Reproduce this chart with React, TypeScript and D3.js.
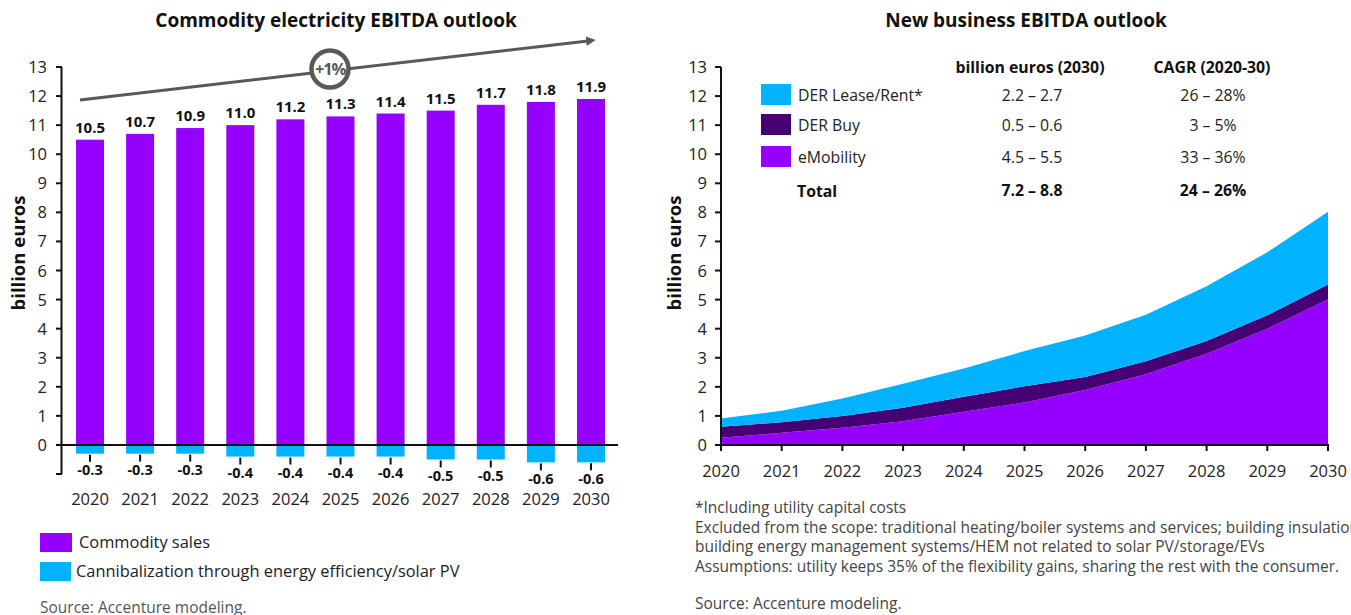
import React from "react";
import * as d3 from "d3";

const years = ["2020", "2021", "2022", "2023", "2024", "2025", "2026", "2027", "2028", "2029", "2030"];
const commoditySales = [10.5, 10.7, 10.9, 11.0, 11.2, 11.3, 11.4, 11.5, 11.7, 11.8, 11.9];
const cannibalization = [-0.3, -0.3, -0.3, -0.4, -0.4, -0.4, -0.4, -0.5, -0.5, -0.6, -0.6];
const yTicks = d3.range(0, 14);

const eMobility = [0.25, 0.42, 0.59, 0.82, 1.14, 1.46, 1.89, 2.43, 3.14, 4.0, 5.0];
const derBuy = [0.38, 0.36, 0.41, 0.46, 0.52, 0.56, 0.45, 0.45, 0.44, 0.46, 0.52];
const derLease = [0.28, 0.4, 0.6, 0.83, 0.97, 1.21, 1.43, 1.6, 1.88, 2.17, 2.5];

const tableRows = [
  { label: "DER Lease/Rent*", key: "derLease", value: "2.2 – 2.7", cagr: "26 – 28%" },
  { label: "DER Buy", key: "derBuy", value: "0.5 – 0.6", cagr: "3 – 5%" },
  { label: "eMobility", key: "eMobility", value: "4.5 – 5.5", cagr: "33 – 36%" },
];
const tableTotal = { label: "Total", value: "7.2 – 8.8", cagr: "24 – 26%" };

const footnotes = [
  "*Including utility capital costs",
  "Excluded from the scope: traditional heating/boiler systems and services; building insulation;",
  "building energy management systems/HEM not related to solar PV/storage/EVs",
  "Assumptions: utility keeps 35% of the flexibility gains, sharing the rest with the consumer.",
];

const PURPLE = "#9500FF";
const BLUE = "#00B2FF";
const DARK = "#460073";
const GREY = "#595959";
const FONT = "'Open Sans', Roboto, sans-serif";

const colors: Record<string, string> = { eMobility: PURPLE, derBuy: DARK, derLease: BLUE };

function LeftChart() {
  const x = d3.scalePoint<string>().domain(years).range([90, 591]);
  const y = d3.scaleLinear().domain([-1, 13]).range([474, 67]);
  const bw = 28;
  const trend = [
    [80, 100],
    [588, 41],
  ];
  return (
    <g>
      <text x={336} y={27} textAnchor="middle" fontWeight={700} fontSize={19} fill="#111">
        Commodity electricity EBITDA outlook
      </text>
      {/* bars */}
      {years.map((yr, i) => (
        <g key={yr}>
          <rect x={x(yr)! - bw / 2} y={y(commoditySales[i])} width={bw} height={y(0) - y(commoditySales[i])} fill={PURPLE} />
          <rect x={x(yr)! - bw / 2} y={y(0)} width={bw} height={y(cannibalization[i]) - y(0)} fill={BLUE} />
          <text x={x(yr)} y={y(commoditySales[i]) - 7} textAnchor="middle" fontWeight={700} fontSize={15} fill="#111">
            {commoditySales[i].toFixed(1)}
          </text>
          <line x1={x(yr)} x2={x(yr)} y1={y(cannibalization[i]) + 1} y2={y(cannibalization[i]) + 8} stroke="#111" strokeWidth={2} />
          <text x={x(yr)} y={y(cannibalization[i]) + 21.5} textAnchor="middle" fontWeight={700} fontSize={14.5} fill="#111">
            {cannibalization[i].toFixed(1)}
          </text>
          <text x={x(yr)} y={505} textAnchor="middle" fontSize={16.5} fill="#222">
            {yr}
          </text>
        </g>
      ))}
      {/* axes */}
      <line x1={61.5} x2={61.5} y1={y(13)} y2={y(-1)} stroke="#111" strokeWidth={2} />
      {[...yTicks, -1].map((t) => (
        <line key={t} x1={56} x2={62} y1={y(t)} y2={y(t)} stroke="#111" strokeWidth={2} />
      ))}
      {yTicks.map((t) => (
        <text key={t} x={47} y={y(t) + 6} textAnchor="end" fontSize={16.5} fill="#222">
          {t}
        </text>
      ))}
      <line x1={56} x2={618} y1={y(0)} y2={y(0)} stroke="#111" strokeWidth={2} />
      <text transform={`translate(25,253) rotate(-90)`} textAnchor="middle" fontWeight={700} fontSize={18.5} fill="#111">
        billion euros
      </text>
      {/* trend arrow */}
      <defs>
        <marker id="arrowHead" viewBox="0 0 10 10" refX={2} refY={5} markerWidth={3.2} markerHeight={3.2} orient="auto">
          <path d="M0,0 L10,5 L0,10 z" fill={GREY} />
        </marker>
      </defs>
      <line x1={trend[0][0]} y1={trend[0][1]} x2={trend[1][0]} y2={trend[1][1]} stroke={GREY} strokeWidth={3} markerEnd="url(#arrowHead)" />
      <circle cx={330} cy={69} r={18.5} fill="#fff" stroke={GREY} strokeWidth={4.5} />
      <text x={330} y={75} textAnchor="middle" fontWeight={700} fontSize={16.5} fill={GREY} letterSpacing={-1.2}>
        +1%
      </text>
      {/* legend */}
      <rect x={40} y={533} width={32} height={19} fill={PURPLE} />
      <text x={79} y={548} fontSize={16.4} fill="#222">Commodity sales</text>
      <rect x={40} y={562} width={31} height={19} fill={BLUE} />
      <text x={76} y={577} fontSize={16.4} fill="#222">Cannibalization through energy efficiency/solar PV</text>
      <text x={40} y={613} fontSize={15.5} fill="#555">Source: Accenture modeling.</text>
    </g>
  );
}

function RightChart() {
  const x = d3.scaleLinear().domain([2020, 2030]).range([721, 1328]);
  const y = d3.scaleLinear().domain([0, 13]).range([445, 67]);
  const rows = years.map((yr, i) => ({ year: +yr, eMobility: eMobility[i], derBuy: derBuy[i], derLease: derLease[i] }));
  const series = d3.stack<any>().keys(["eMobility", "derBuy", "derLease"])(rows);
  const area = d3
    .area<any>()
    .x((d) => x(d.data.year))
    .y0((d) => y(d[0]))
    .y1((d) => y(d[1]));
  const rowY = [95, 125, 157];
  return (
    <g>
      <text x={1026} y={27} textAnchor="middle" fontWeight={700} fontSize={19} fill="#111">
        New business EBITDA outlook
      </text>
      {series.map((s) => (
        <path key={s.key} d={area(s) || ""} fill={colors[s.key]} />
      ))}
      <line x1={721} x2={721} y1={y(13)} y2={y(0)} stroke="#111" strokeWidth={2} />
      {yTicks.map((t) => (
        <g key={t}>
          <line x1={715} x2={721} y1={y(t)} y2={y(t)} stroke="#111" strokeWidth={2} />
          <text x={707} y={y(t) + 6} textAnchor="end" fontSize={16.5} fill="#222">
            {t}
          </text>
        </g>
      ))}
      <line x1={715} x2={1329} y1={y(0)} y2={y(0)} stroke="#111" strokeWidth={2} />
      {years.map((yr) => (
        <g key={yr}>
          <line x1={x(+yr)} x2={x(+yr)} y1={y(0)} y2={y(0) + 6} stroke="#111" strokeWidth={2} />
          <text x={x(+yr)} y={477} textAnchor="middle" fontSize={16.5} fill="#222">
            {yr}
          </text>
        </g>
      ))}
      <text transform={`translate(681,253) rotate(-90)`} textAnchor="middle" fontWeight={700} fontSize={18.5} fill="#111">
        billion euros
      </text>
      {/* legend table */}
      <text x={1030} y={73} textAnchor="middle" fontWeight={700} fontSize={15.8} fill="#111">billion euros (2030)</text>
      <text x={1212} y={73} textAnchor="middle" fontWeight={700} fontSize={15.8} fill="#111">CAGR (2020-30)</text>
      {tableRows.map((r, i) => (
        <g key={r.key}>
          <rect x={761} y={rowY[i] - 11} width={30} height={21} fill={colors[r.key]} />
          <text x={798} y={rowY[i] + 6} fontSize={15.8} fill="#222">{r.label}</text>
          <text x={1032} y={rowY[i] + 6} textAnchor="middle" fontSize={15.8} fill="#222">{r.value}</text>
          <text x={1213} y={rowY[i] + 6} textAnchor="middle" fontSize={15.8} fill="#222">{r.cagr}</text>
        </g>
      ))}
      <text x={797} y={197} fontWeight={700} fontSize={15.8} fill="#111">{tableTotal.label}</text>
      <text x={1032} y={196} textAnchor="middle" fontWeight={700} fontSize={15.8} fill="#111">{tableTotal.value}</text>
      <text x={1213} y={196} textAnchor="middle" fontWeight={700} fontSize={15.8} fill="#111">{tableTotal.cagr}</text>
      {/* notes */}
      {footnotes.map((f, i) => (
        <text key={i} x={695} y={513 + i * 19.7} fontSize={15.5} fill="#444">{f}</text>
      ))}
      <text x={695} y={609} fontSize={15.5} fill="#444">Source: Accenture modeling.</text>
    </g>
  );
}

export default function App() {
  return (
    <svg
      width={1351}
      height={615}
      viewBox="0 0 1351 615"
      style={{ position: "absolute", left: 0, top: 0, background: "#fff", fontFamily: FONT }}
    >
      <LeftChart />
      <RightChart />
    </svg>
  );
}
